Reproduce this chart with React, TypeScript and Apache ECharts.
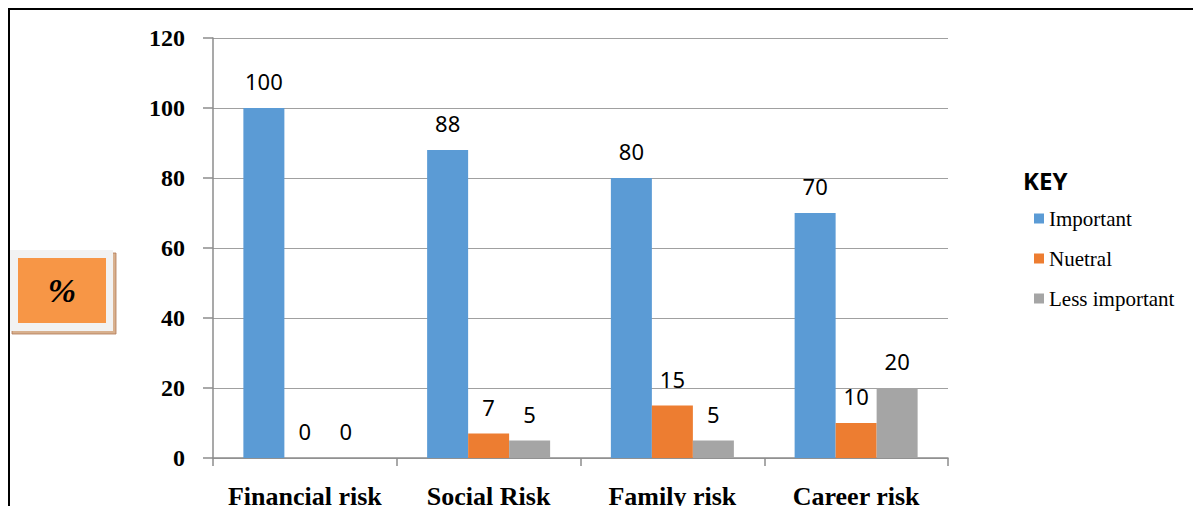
import React, { useEffect, useRef } from "react";
import * as echarts from "echarts";

const categories = ["Financial risk", "Social Risk", "Family risk", "Career risk"];
const important = [100, 88, 80, 70];
const neutral = [0, 7, 15, 10];
const lessImportant = [0, 5, 5, 20];
const seriesNames = ["Important", "Nuetral", "Less important"];
const yMin = 0;
const yMax = 120;
const yStep = 20;

const SERIF = "'Liberation Serif', 'Times New Roman', serif";

export default function App() {
  const ref = useRef<HTMLDivElement>(null);
  useEffect(() => {
    if (!ref.current) return;
    const chart = echarts.init(ref.current, null, { renderer: "svg" });
    const labelCfg = {
      show: true,
      position: "top",
      distance: 16,
      fontFamily: "Noto Sans",
      fontSize: 22,
      color: "#000",
    };
    const mk = (name: string, data: number[], color: string) => ({
      name,
      type: "bar",
      data,
      barWidth: 41,
      barGap: "0%",
      itemStyle: { color },
      label: labelCfg,
    });
    chart.setOption({
      animation: false,
      backgroundColor: "#fff",
      grid: {
        left: 213,
        right: 245,
        top: 38,
        bottom: 48,
        containLabel: false,
        outerBoundsMode: "none",
      },
      xAxis: {
        type: "category",
        data: categories,
        axisLine: { show: true, lineStyle: { color: "#8c8c8c", width: 1.5 } },
        axisTick: { show: true, length: 8, lineStyle: { color: "#8c8c8c", width: 1.5 } },
        axisLabel: {
          interval: 0,
          margin: 25,
          fontFamily: SERIF,
          fontWeight: "bold",
          fontSize: 26,
          color: "#000",
        },
      },
      yAxis: {
        type: "value",
        min: yMin,
        max: yMax,
        interval: yStep,
        axisLine: { show: true, lineStyle: { color: "#8c8c8c", width: 1.5 } },
        axisTick: { show: true, length: 10, lineStyle: { color: "#8c8c8c", width: 1.5 } },
        splitLine: { show: true, lineStyle: { color: "#a0a0a0", width: 1.2 } },
        axisLabel: {
          margin: 28,
          fontFamily: SERIF,
          fontWeight: "bold",
          fontSize: 24,
          color: "#000",
        },
      },
      legend: {
        data: seriesNames,
        orient: "vertical",
        left: 1034,
        top: 208,
        padding: 0,
        itemWidth: 10,
        itemHeight: 10,
        itemGap: 19,
        icon: "rect",
        textStyle: { fontFamily: SERIF, fontSize: 21, color: "#000" },
      },
      series: [
        mk(seriesNames[0], important, "#5B9BD5"),
        mk(seriesNames[1], neutral, "#ED7D31"),
        mk(seriesNames[2], lessImportant, "#A5A5A5"),
      ],
      graphic: [
        {
          type: "rect",
          z: -10,
          silent: true,
          shape: { x: 9, y: 9, width: 1200, height: 600 },
          style: { fill: "none", stroke: "#000", lineWidth: 2 },
        },
        {
          type: "text",
          left: 1023,
          top: 168,
          style: {
            text: "KEY",
            fontFamily: "Noto Sans",
            fontWeight: "bold",
            fontSize: 24,
            fill: "#000",
          },
        },
        {
          type: "rect",
          shape: { x: 12, y: 253, width: 104, height: 81 },
          style: { fill: "#d8b08e", stroke: "#b07a55", lineWidth: 0.8 },
        },
        {
          type: "rect",
          shape: { x: 10, y: 250, width: 103, height: 81 },
          style: { fill: "#F2F2F2" },
        },
        {
          type: "rect",
          shape: { x: 18, y: 258, width: 88, height: 65 },
          style: { fill: "#F79646" },
        },
        {
          type: "text",
          x: 62,
          y: 290,
          style: {
            text: "%",
            fontFamily: SERIF,
            fontWeight: "bold",
            fontStyle: "italic",
            fontSize: 34,
            fill: "#000",
            align: "center",
            verticalAlign: "middle",
          },
        },
      ],
    });
    return () => chart.dispose();
  }, []);
  return (
    <div
      ref={ref}
      style={{ position: "fixed", left: 0, top: 0, width: 1193, height: 506, background: "#fff" }}
    />
  );
}
